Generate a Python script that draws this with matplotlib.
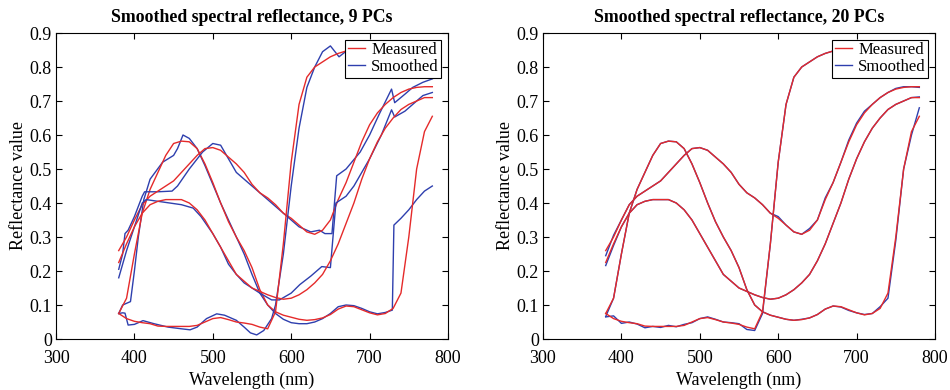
import matplotlib
matplotlib.use('Agg')
import matplotlib.pyplot as plt
from matplotlib.ticker import FuncFormatter

plt.rcParams['font.family'] = ['Liberation Serif', 'DejaVu Serif']
FontSize = 13

# measured spectra, 380-780 nm in 10 nm steps
wl = list(range(380, 781, 10))

meas_1 = [0.075, 0.12, 0.25, 0.37, 0.44, 0.49, 0.54, 0.575, 0.582, 0.58,
          0.56, 0.515, 0.46, 0.40, 0.345, 0.30, 0.26, 0.21, 0.145, 0.10,
          0.08, 0.07, 0.064, 0.058, 0.055, 0.057, 0.062, 0.072, 0.088, 0.097,
          0.095, 0.086, 0.077, 0.071, 0.075, 0.09, 0.135, 0.30, 0.50, 0.61,
          0.655]
meas_2 = [0.26, 0.30, 0.35, 0.395, 0.42, 0.435, 0.45, 0.465, 0.49, 0.515,
          0.54, 0.56, 0.563, 0.555, 0.535, 0.515, 0.49, 0.455, 0.43, 0.415,
          0.395, 0.37, 0.355, 0.335, 0.315, 0.308, 0.32, 0.35, 0.41, 0.46,
          0.52, 0.58, 0.63, 0.665, 0.69, 0.71, 0.725, 0.735, 0.74, 0.742,
          0.742]
meas_3 = [0.225, 0.28, 0.33, 0.37, 0.395, 0.405, 0.41, 0.41, 0.41, 0.40,
          0.38, 0.35, 0.31, 0.27, 0.23, 0.19, 0.17, 0.15, 0.14, 0.13,
          0.122, 0.117, 0.12, 0.13, 0.145, 0.165, 0.19, 0.23, 0.28, 0.34,
          0.40, 0.47, 0.53, 0.58, 0.62, 0.65, 0.675, 0.69, 0.70, 0.71,
          0.71]
meas_4 = [0.075, 0.06, 0.052, 0.048, 0.045, 0.038, 0.037, 0.037, 0.037, 0.037,
          0.04, 0.05, 0.06, 0.063, 0.057, 0.05, 0.047, 0.043, 0.035, 0.03,
          0.08, 0.28, 0.52, 0.69, 0.77, 0.80, 0.815, 0.83, 0.84, 0.847,
          0.852, 0.856, 0.86, 0.862, 0.864, 0.865, 0.866, 0.867, 0.868, 0.868,
          0.868]

# smoothed with 9 PCs (own wavelength samples, they have jumps)
b9_wl_1 = [380, 385, 390, 395, 400, 405, 412, 420, 436, 450, 455, 462, 470, 480, 490,
           500, 510, 520, 530, 540, 550, 560, 570, 580, 590, 600, 610, 620, 630, 640,
           650, 660, 670, 680, 690, 700, 710, 720, 729, 731, 740, 750, 760, 770, 780]
b9_1 = [0.075, 0.10, 0.105, 0.11, 0.2, 0.3, 0.41, 0.47, 0.52, 0.54, 0.56, 0.60, 0.59, 0.56, 0.51,
        0.455, 0.40, 0.35, 0.30, 0.25, 0.19, 0.135, 0.10, 0.075, 0.058, 0.048, 0.045, 0.045, 0.05, 0.06,
        0.075, 0.095, 0.1, 0.098, 0.09, 0.08, 0.074, 0.078, 0.085, 0.335, 0.355, 0.38, 0.41, 0.435, 0.45]
b9_wl_2 = [380, 385, 388, 392, 400, 410, 413, 430, 448, 455, 470, 487, 500, 510, 520,
           530, 550, 570, 590, 610, 625, 636, 643, 652, 658, 670, 688, 700, 712, 728,
           732, 745, 755, 768, 780]
b9_2 = [0.205, 0.25, 0.31, 0.32, 0.36, 0.42, 0.433, 0.433, 0.435, 0.45, 0.50, 0.55, 0.575, 0.57, 0.53,
        0.49, 0.45, 0.41, 0.37, 0.33, 0.315, 0.32, 0.31, 0.31, 0.48, 0.50, 0.55, 0.60, 0.66, 0.735,
        0.695, 0.72, 0.74, 0.755, 0.765]
b9_wl_3 = [380, 390, 400, 410, 415, 430, 460, 475, 485, 500, 510, 520, 530, 540, 560,
           575, 585, 600, 611, 625, 639, 650, 657, 670, 680, 690, 700, 715, 728, 732,
           745, 755, 768, 780]
b9_3 = [0.18, 0.26, 0.33, 0.40, 0.41, 0.405, 0.395, 0.385, 0.36, 0.31, 0.27, 0.22, 0.19, 0.165, 0.135,
        0.115, 0.115, 0.135, 0.16, 0.185, 0.213, 0.21, 0.40, 0.42, 0.45, 0.49, 0.53, 0.60, 0.674, 0.653,
        0.67, 0.69, 0.716, 0.725]
b9_wl_4 = [380, 385, 388, 392, 400, 411, 425, 443, 460, 471, 480, 492, 505, 515, 530,
           540, 548, 556, 565, 575, 580, 590, 600, 610, 620, 630, 640, 650, 661, 672,
           690, 780]
b9_4 = [0.075, 0.077, 0.076, 0.041, 0.043, 0.054, 0.045, 0.035, 0.03, 0.027, 0.035, 0.06, 0.074, 0.07, 0.055,
        0.035, 0.018, 0.012, 0.025, 0.06, 0.1, 0.25, 0.45, 0.62, 0.74, 0.80, 0.845, 0.862, 0.83, 0.85,
        0.86, 0.87]

# smoothed with 20 PCs, same grid as measured
b20_1 = [0.066, 0.12, 0.25, 0.37, 0.44, 0.49, 0.54, 0.575, 0.582, 0.58,
         0.56, 0.515, 0.46, 0.40, 0.345, 0.30, 0.26, 0.21, 0.145, 0.10,
         0.08, 0.07, 0.064, 0.058, 0.055, 0.058, 0.062, 0.072, 0.088, 0.097,
         0.094, 0.084, 0.077, 0.072, 0.075, 0.095, 0.12, 0.29, 0.50, 0.60,
         0.68]
b20_2 = [0.245, 0.305, 0.35, 0.395, 0.42, 0.435, 0.45, 0.465, 0.49, 0.515,
         0.54, 0.56, 0.563, 0.555, 0.535, 0.515, 0.49, 0.455, 0.43, 0.415,
         0.395, 0.37, 0.36, 0.335, 0.315, 0.308, 0.325, 0.35, 0.415, 0.46,
         0.52, 0.585, 0.635, 0.67, 0.69, 0.71, 0.725, 0.737, 0.742, 0.742,
         0.74]
b20_3 = [0.216, 0.275, 0.33, 0.37, 0.395, 0.405, 0.41, 0.41, 0.41, 0.40,
         0.38, 0.35, 0.31, 0.27, 0.23, 0.19, 0.17, 0.15, 0.14, 0.13,
         0.122, 0.117, 0.12, 0.13, 0.145, 0.165, 0.19, 0.23, 0.28, 0.34,
         0.40, 0.47, 0.53, 0.58, 0.62, 0.65, 0.675, 0.69, 0.70, 0.71,
         0.712]
b20_4 = [0.065, 0.068, 0.046, 0.05, 0.044, 0.033, 0.037, 0.034, 0.04, 0.036,
         0.043, 0.048, 0.06, 0.065, 0.058, 0.05, 0.048, 0.045, 0.028, 0.025,
         0.075, 0.28, 0.52, 0.69, 0.77, 0.80, 0.815, 0.83, 0.84, 0.847,
         0.852, 0.856, 0.86, 0.862, 0.864, 0.865, 0.866, 0.867, 0.868, 0.868,
         0.868]

titles = ['Smoothed spectral reflectance, 9 PCs', 'Smoothed spectral reflectance, 20 PCs']
x_ticks = [300, 400, 500, 600, 700, 800]
y_ticks = [0, 0.1, 0.2, 0.3, 0.4, 0.5, 0.6, 0.7, 0.8, 0.9]

red = '#e52a2a'
blue = '#2e3fae'

fig = plt.figure(figsize=(9.5, 3.9), dpi=100)
ax1 = fig.add_axes([56 / 950, 51 / 390, 392 / 950, 306 / 390])
ax2 = fig.add_axes([543 / 950, 51 / 390, 392 / 950, 306 / 390])

smoothed9 = [(b9_wl_1, b9_1), (b9_wl_2, b9_2), (b9_wl_3, b9_3), (b9_wl_4, b9_4)]
smoothed20 = [(wl, b20_1), (wl, b20_2), (wl, b20_3), (wl, b20_4)]
measured = [meas_1, meas_2, meas_3, meas_4]

for ax, smoothed, title in zip([ax1, ax2], [smoothed9, smoothed20], titles):
    for (sx, sy), m in zip(smoothed, measured):
        hb, = ax.plot(sx, sy, color=blue, lw=1.0)
        hr, = ax.plot(wl, m, color=red, lw=1.0)
    ax.set_xlim(300, 800)
    ax.set_ylim(0, 0.9)
    ax.set_xticks(x_ticks)
    ax.set_yticks(y_ticks)
    ax.yaxis.set_major_formatter(FuncFormatter(lambda v, p: '%g' % v))
    ax.tick_params(direction='in', top=True, right=True, length=4, width=0.8,
                   labelsize=FontSize)
    ax.tick_params(axis='x', pad=8)
    ax.tick_params(axis='y', pad=3)
    for s in ax.spines.values():
        s.set_linewidth(0.8)
    ax.set_title(title, fontsize=12.8, fontweight='bold', pad=8)
    ax.set_xlabel('Wavelength (nm)', fontsize=FontSize, labelpad=3)
    ax.set_ylabel('Reflectance value', fontsize=FontSize, labelpad=2)
    leg = ax.legend([hr, hb], ['Measured', 'Smoothed'], loc='upper right',
                    fontsize=12, fancybox=False, framealpha=1,
                    edgecolor='black', handlelength=1.0, handletextpad=0.4,
                    labelspacing=0.05, borderpad=0.15, borderaxespad=0.4)
    leg.get_frame().set_linewidth(0.8)

fig.savefig('out.png', dpi=100)
